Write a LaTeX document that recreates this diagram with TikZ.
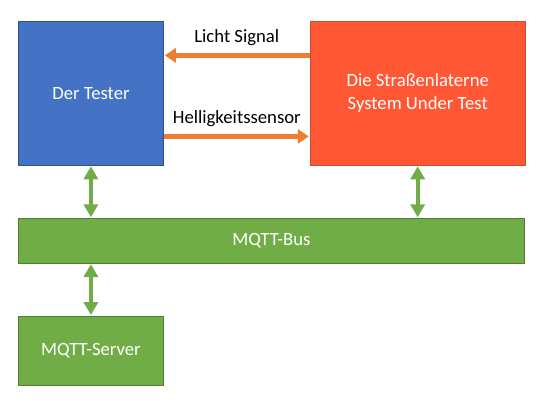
\documentclass[tikz,border=0pt]{standalone}
\usepackage{fontspec}
\setmainfont{Carlito}
\usepackage{tikz}
\usetikzlibrary{arrows.meta,positioning}
\usepackage{xcolor}
\definecolor{tblue}{HTML}{4472C4}
\definecolor{tblueline}{HTML}{2F528F}
\definecolor{lamp}{HTML}{FF5733}
\definecolor{lampline}{HTML}{C5502C}
\definecolor{mqtt}{HTML}{70AD47}
\definecolor{mqttline}{HTML}{507E32}
\definecolor{signal}{HTML}{ED7D31}
\tikzset{
  base/.style={font=\fontsize{18.7pt}{23pt}\selectfont,align=center,text=white,line width=0.8pt,inner sep=0pt},
  tester/.style={base,fill=tblue,draw=tblueline,minimum width=145pt,minimum height=144pt},
  lamp/.style={base,fill=lamp,draw=lampline,minimum width=215pt,minimum height=144pt},
  bus/.style={base,fill=mqtt,draw=mqttline,minimum width=506pt,minimum height=45pt},
  server/.style={base,fill=mqtt,draw=mqttline,minimum width=145pt,minimum height=69pt},
  sig/.style={-{Triangle[length=11pt,width=14pt]},line width=4.5pt,draw=signal,shorten >=1pt},
  link/.style={{Triangle[length=13pt,width=14pt]}-{Triangle[length=13pt,width=14pt]},line width=4pt,draw=mqtt,shorten >=0.5pt,shorten <=0.5pt},
  lbl/.style={font=\fontsize{18.7pt}{22pt}\selectfont,text=black,inner sep=0pt}
}
\begin{document}
\begin{tikzpicture}[x=1pt,y=-1pt]
\useasboundingbox (0,0) rectangle (543,401);
\node[tester,anchor=north west] (tester) at (18,21) {\raisebox{-3pt}{Der Tester}};
\node[lamp,right=146pt of tester] (sut) {\raisebox{-3pt}{Die Straßenlaterne}\\\raisebox{-3pt}{System Under Test}};
\node[bus,below=52pt of tester.south west,anchor=north west] (bus) {MQTT-Bus};
\node[server,below=52pt of bus.south west,anchor=north west] (server) {MQTT-Server};
\draw[sig] ([yshift=38pt]sut.west) -- ([yshift=38pt]tester.east) node[lbl,midway,above=7pt] (licht) {Licht Signal};
\draw[sig] ([yshift=-43pt]tester.east) -- ([yshift=-43pt]sut.west) node[lbl,midway,above=7pt] (hell) {Helligkeitssensor};
\draw[link] (tester.south) -- (tester.south |- bus.north);
\draw[link] (sut.south) -- (sut.south |- bus.north);
\draw[link] (bus.south -| server.north) -- (server.north);
\end{tikzpicture}
\end{document}
